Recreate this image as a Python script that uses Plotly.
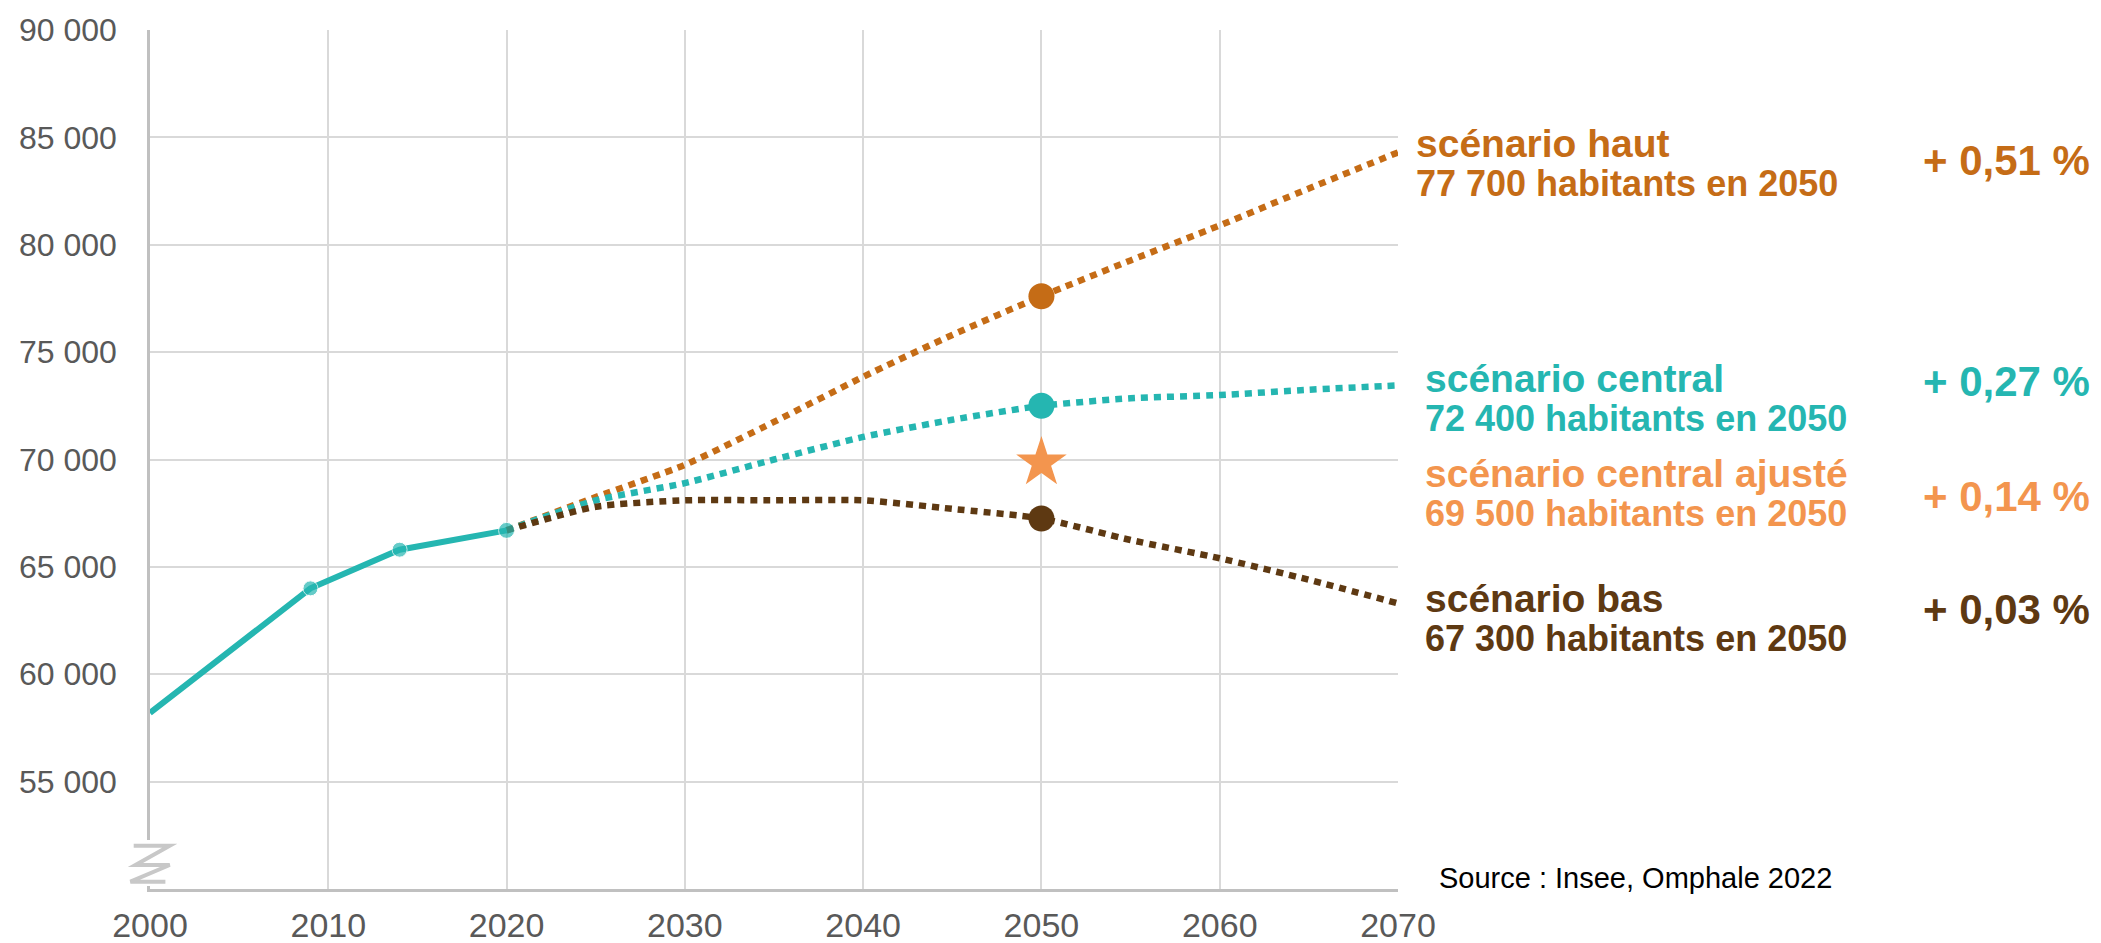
import plotly.graph_objects as go

# ---------------- data ----------------
hist_years = [2000, 2009, 2014, 2020]
hist_pop = [58200, 64000, 65800, 66700]

proj_years = [2020, 2025, 2030, 2035, 2040, 2045, 2050, 2055, 2060, 2065, 2070]
haut = [66700, 68250, 69750, 71750, 73850, 75800, 77600, 79270, 80900, 82620, 84300]
central = [66700, 68100, 68900, 70000, 71050, 71850, 72500, 72850, 73000, 73250, 73450]
bas = [66700, 67800, 68100, 68100, 68100, 67700, 67250, 66250, 65400, 64400, 63300]

year_2050 = 2050
ajuste_2050 = 69850

scen_titles = ["scénario haut", "scénario central", "scénario central ajusté", "scénario bas"]
scen_sub = ["77 700 habitants en 2050", "72 400 habitants en 2050",
            "69 500 habitants en 2050", "67 300 habitants en 2050"]
scen_pct = ["+ 0,51 %", "+ 0,27 %", "+ 0,14 %", "+ 0,03 %"]

y_ticks = [55000, 60000, 65000, 70000, 75000, 80000, 85000, 90000]
x_ticks = [2000, 2010, 2020, 2030, 2040, 2050, 2060, 2070]
source_text = "Source : Insee, Omphale 2022"

# ---------------- style ----------------
C_HAUT = "#C56C16"
C_CENT = "#25B6B1"
C_AJ = "#F3954E"
C_BAS = "#5E3912"
GRID = "#D9D9D9"
AXIS = "#C0C0C0"
TICK = "#595959"
FONT = "Liberation Sans, Arial, sans-serif"
DASH = "7px,6px"

fig = go.Figure()

for vals, col in [(haut, C_HAUT), (central, C_CENT), (bas, C_BAS)]:
    fig.add_trace(go.Scatter(x=proj_years, y=vals, mode="lines",
                             line=dict(color=col, width=6.5, dash=DASH, shape="spline", smoothing=0.6),
                             hoverinfo="skip", showlegend=False))

fig.add_trace(go.Scatter(x=hist_years, y=hist_pop, mode="lines+markers",
                         line=dict(color=C_CENT, width=6),
                         marker=dict(size=[0, 15, 15, 16], color=C_CENT),
                         hoverinfo="skip", showlegend=False))

i50 = proj_years.index(year_2050)
for vals, col in [(haut, C_HAUT), (central, C_CENT), (bas, C_BAS)]:
    fig.add_trace(go.Scatter(x=[year_2050], y=[vals[i50]], mode="markers",
                             marker=dict(size=26, color=col),
                             hoverinfo="skip", showlegend=False))
fig.add_trace(go.Scatter(x=[year_2050], y=[ajuste_2050], mode="markers",
                         marker=dict(size=38, color=C_AJ, symbol="star"),
                         hoverinfo="skip", showlegend=False))

# ---------------- annotations ----------------
L, R, T, B = 150, 703, 30, 54
W, H = 2101, 943
pw = W - L - R
ph = H - T - B

def px_x(px):
    return (px - L) / pw

def px_y(py):
    return (H - B - py) / ph

label_x = [1414, 1423, 1423, 1423]
block_y = [163, 398, 493, 618]
pct_y = [161, 381, 496, 609]
cols = [C_HAUT, C_CENT, C_AJ, C_BAS]

ann = []
for i in range(4):
    txt = ('<b><span style="font-size:39px">%s</span><br>'
           '<span style="font-size:36px">%s</span></b>') % (scen_titles[i], scen_sub[i])
    ann.append(dict(x=px_x(label_x[i]), y=px_y(block_y[i]), xref="paper", yref="paper",
                    text=txt, showarrow=False, xanchor="left", yanchor="middle", align="left",
                    font=dict(family=FONT, size=30, color=cols[i])))
    ann.append(dict(x=px_x(1921), y=px_y(pct_y[i]), xref="paper", yref="paper",
                    text="<b>%s</b>" % scen_pct[i], showarrow=False, xanchor="left", yanchor="middle",
                    font=dict(family=FONT, size=42, color=cols[i])))
ann.append(dict(x=px_x(1437), y=px_y(878), xref="paper", yref="paper",
                text=source_text, showarrow=False, xanchor="left", yanchor="middle",
                font=dict(family=FONT, size=29, color="#000000")))

shapes = [
    # white-out of the axis line under the break mark
    dict(type="rect", xref="paper", yref="paper", xsizemode="pixel", ysizemode="pixel",
         xanchor=0, yanchor=0, x0=-5, x1=5, y0=3, y1=49,
         fillcolor="white", line=dict(width=0), layer="above"),
    # axis break mark
    dict(type="path", xref="paper", yref="paper", xsizemode="pixel", ysizemode="pixel",
         xanchor=0, yanchor=0,
         path="M -16.3 43.3 L 19.7 43.3 L -14.6 24 L 19.7 24 L -19.6 7.3 L 15.4 7.3",
         line=dict(color="#C8C8C8", width=4), layer="above"),
]

fig.update_layout(
    width=W, height=H,
    margin=dict(l=L, r=R, t=T, b=B, pad=0),
    paper_bgcolor="white", plot_bgcolor="white",
    font=dict(family=FONT, color=TICK),
    separators=", ",
    annotations=ann, shapes=shapes,
    showlegend=False,
)
fig.update_xaxes(range=[2000, 2070], tickvals=x_ticks, showgrid=True, gridcolor=GRID, gridwidth=2,
                 zeroline=False, showline=True, linecolor=AXIS, linewidth=3, automargin=False,
                 ticks="", ticklabelstandoff=4,
                 tickfont=dict(family=FONT, size=34, color=TICK))
fig.update_yaxes(range=[50000, 90000], tickvals=y_ticks, tickformat=",d", showgrid=True,
                 gridcolor=GRID, gridwidth=2, zeroline=False, showline=True, linecolor=AXIS,
                 linewidth=2.5, ticks="", ticklabelstandoff=24, automargin=False,
                 tickfont=dict(family=FONT, size=32, color=TICK))

fig.write_html("out.html", config={"displayModeBar": False},
               post_script="document.body.style.margin='0';")
